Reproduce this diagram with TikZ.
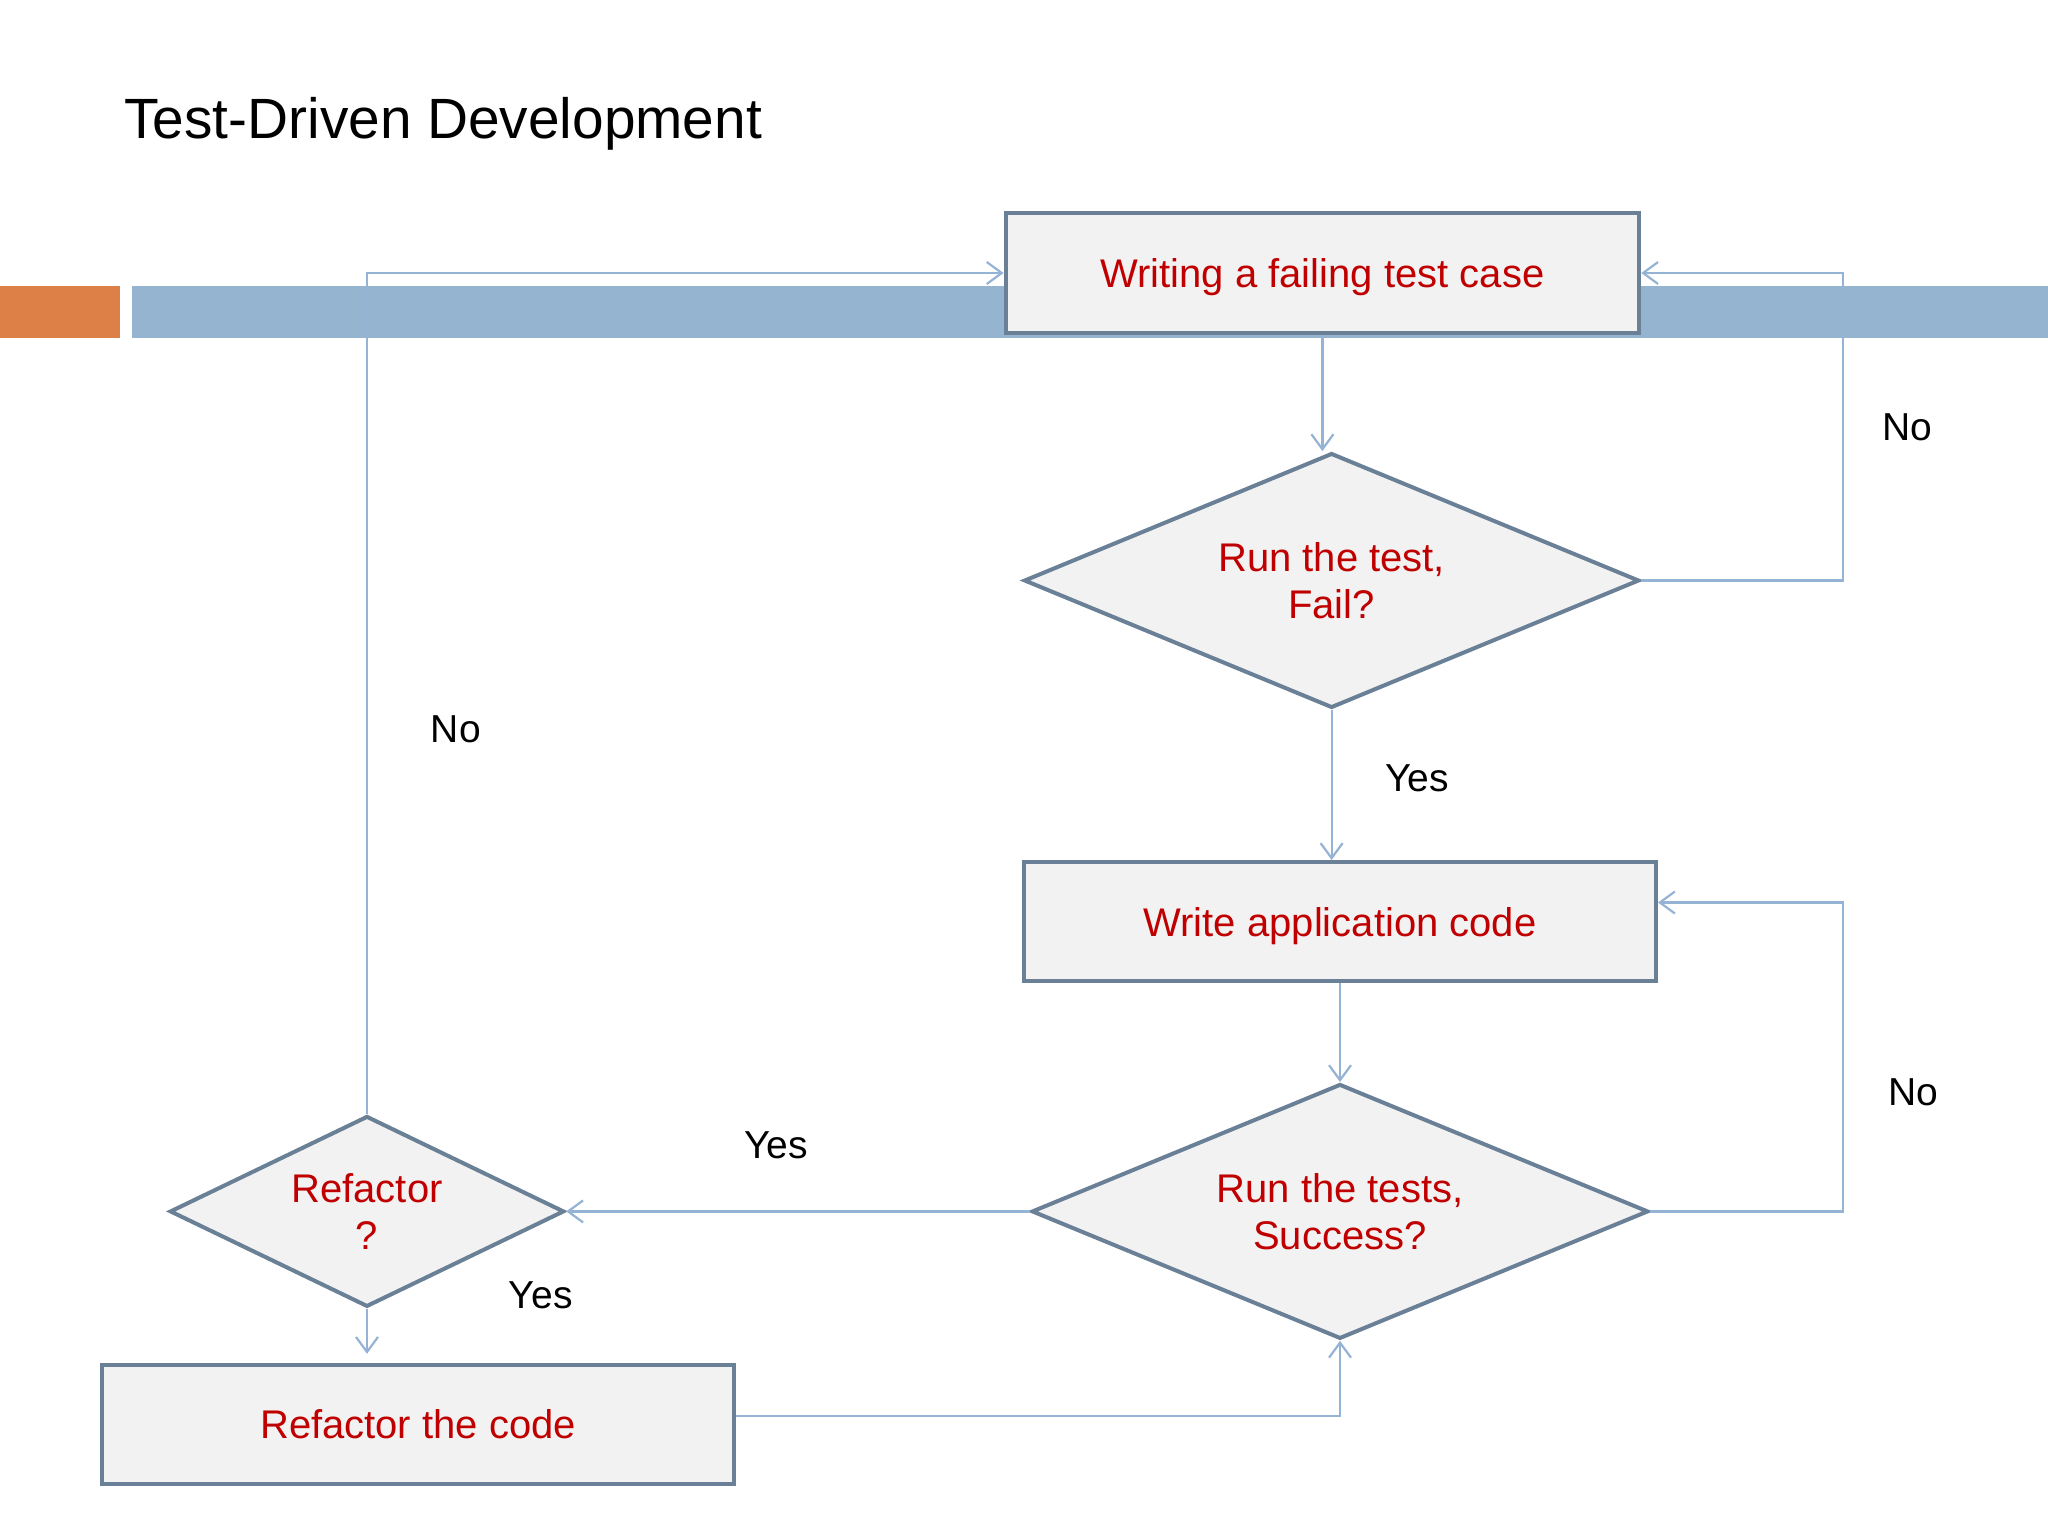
\documentclass[tikz,border=0pt]{standalone}
\usepackage{fontspec}
\setmainfont{Liberation Sans}
\usetikzlibrary{shapes.geometric,arrows.meta,calc}
\definecolor{barblue}{RGB}{148,180,208}
\definecolor{barorange}{RGB}{221,128,71}
\definecolor{boxfill}{RGB}{243,242,242}
\definecolor{boxdraw}{RGB}{105,128,150}
\definecolor{connblue}{RGB}{149,179,212}
\definecolor{textred}{RGB}{192,0,0}
\tikzset{
  procbox/.style={draw=boxdraw, fill=boxfill, line width=2pt, rectangle, inner sep=0pt,
    text=textred, font=\fontsize{20}{23.5}\selectfont, align=center, text depth=0pt},
  decbox/.style={draw=boxdraw, fill=boxfill, line width=2pt, diamond, inner sep=0pt,
    text=textred, font=\fontsize{20}{23.5}\selectfont, align=center},
  conn/.style={draw=connblue, line width=1.1pt},
  arr/.style={conn, -{Straight Barb[length=7.5pt,width=11pt,line width=1.1pt]}},
  lbl/.style={font=\fontsize{19.5}{23}\selectfont, text=black, inner sep=0pt},
}
\begin{document}
\begin{tikzpicture}[x=0.5pt,y=-0.5pt]
\useasboundingbox (0,0) rectangle (2048,1536);
\fill[white] (0,0) rectangle (2048,1536);
% header bars
\fill[barorange] (0,286) rectangle (120,338);
\fill[barblue] (132,286) rectangle (2048,338);
% title
\node[anchor=base west, inner sep=0pt, font=\fontsize{28.4}{32}\selectfont] (title) at (124,138.5) {Test-Driven Development};
% coordinates
\coordinate (rx) at (1843,0);
% nodes
\node[procbox, minimum width=316.8pt, minimum height=60.1pt] (box1) at (1322.4,273) {Writing a failing test case};
\node[decbox, aspect=2.41, minimum width=307.6pt, minimum height=127.4pt] (d1) at (1331.6,580.5) {Run the test,\\Fail?};
\node[procbox, minimum width=316pt, minimum height=59.5pt] (box2) at (1340,921.5) {Write application code};
\node[decbox, aspect=2.42, minimum width=308.3pt, minimum height=127.4pt] (d2) at (1340,1211.4) {Run the tests,\\Success?};
\node[decbox, aspect=2.07, minimum width=197.2pt, minimum height=95.4pt] (d3) at (367,1211.4) {Refactor\\?};
\node[procbox, minimum width=316pt, minimum height=59.5pt] (box3) at (418,1424.3) {Refactor the code};
% connectors
\draw[arr] (box1.south) -- (box1.south |- d1.north);
\draw[arr] (d1.east) -- (d1.east -| rx) |- (box1.east);
\draw[arr] (d1.south) -- (d1.south |- box2.north);
\draw[arr] (box2.south) -- (box2.south |- d2.north);
\draw[arr] (d2.east) -- (d2.east -| rx) |- ([yshift=9.5pt]box2.east);
\draw[arr] (d2.west) -- (d3.east);
\draw[arr] (d3.north) |- (box1.west);
\draw[arr] (d3.south) -- ([yshift=4.5pt]d3.south |- box3.north);
\draw[arr] ([yshift=4pt]box3.east) -| (d2.south);
% labels
\node[lbl] (l1) at (1907,427) {No};
\node[lbl] (l2) at (1417,778.4) {Yes};
\node[lbl] (l3) at (1913.5,1092) {No};
\node[lbl] (l4) at (775.8,1145.5) {Yes};
\node[lbl] (l5) at (455.8,728.8) {No};
\node[lbl] (l6) at (540.7,1295.7) {Yes};
\end{tikzpicture}
\end{document}
